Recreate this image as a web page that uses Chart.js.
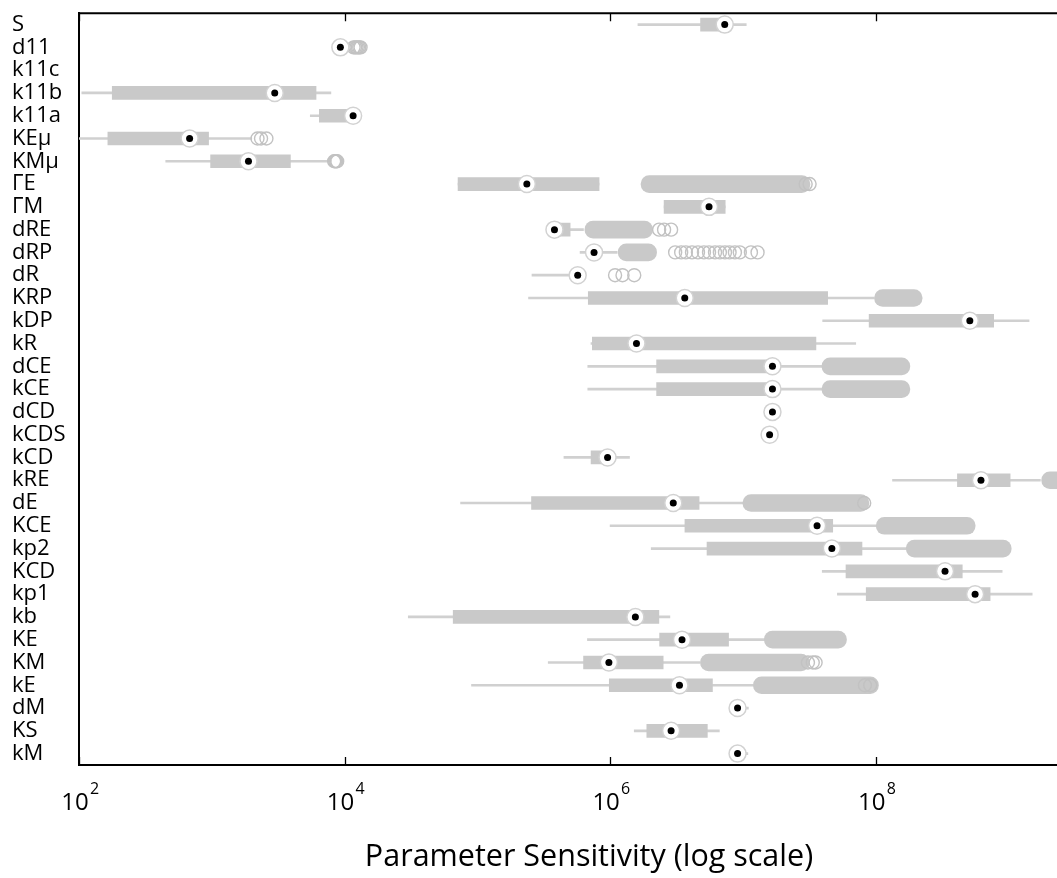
<!DOCTYPE html>
<html>
<head>
<meta charset="utf-8">
<script src="https://cdn.jsdelivr.net/npm/chart.js@4.4.0/dist/chart.umd.min.js"></script>
<style>
html,body{margin:0;padding:0;background:#fff;overflow:hidden;}
#wrap{position:relative;width:1109px;height:878px;}
</style>
</head>
<body>
<div id="wrap"><canvas id="c"></canvas></div>
<script>
// ---- data ----
const categories = ['S','d11','k11c','k11b','k11a','KEμ','KMμ','ΓE','ΓM','dRE','dRP','dR','KRP','kDP','kR','dCE','kCE','dCD','kCDS','kCD','kRE','dE','KCE','kp2','KCD','kp1','kb','KE','KM','kE','dM','KS','kM'];

const whiskerLow  = [1.62e6, null, null, 105, 5520, 98, 450, 7.16e4, 2.55e6, 3.72e5, 5.94e5, 2.58e5, 2.43e5, 3.99e7, 7.18e5, 6.79e5, 6.79e5, null, null, 4.49e5, 1.34e8, 7.48e4, 1.0e6, 2.04e6, 3.96e7, 5.15e7, 3.02e4, 6.75e5, 3.42e5, 9.04e4, 9.12e6, 1.52e6, 9.12e6];
const quartile1   = [4.8e6, null, null, 178, 6460, 165, 980, 7.16e4, 2.55e6, 3.72e5, 7.08e5, 5.5e5, 6.85e5, 8.93e7, 7.35e5, 2.24e6, 2.24e6, null, null, 7.19e5, 4.13e8, 2.56e5, 3.66e6, 5.37e6, 5.98e7, 8.49e7, 6.58e4, 2.36e6, 6.31e5, 9.86e5, null, 1.89e6, null];
const medians     = [7.3e6, 9.3e3, null, 2980, 1.16e4, 681, 1890, 2.36e5, 5.56e6, 3.81e5, 7.57e5, 5.7e5, 3.65e6, 5.12e8, 1.58e6, 1.67e7, 1.67e7, 1.67e7, 1.59e7, 9.57e5, 6.21e8, 2.99e6, 3.62e7, 4.68e7, 3.33e8, 5.61e8, 1.55e6, 3.48e6, 9.79e5, 3.33e6, 9.12e6, 2.88e6, 9.12e6];
const quartile3   = [7.45e6, null, null, 6100, 1.17e4, 946, 3910, 8.26e5, 7.36e6, 5.0e5, 8.3e5, 6.03e5, 4.35e7, 7.74e8, 3.55e7, 1.74e7, 1.74e7, null, null, 1.0e6, 1.03e9, 4.68e6, 4.75e7, 7.89e7, 4.49e8, 7.28e8, 2.33e6, 7.8e6, 2.51e6, 5.9e6, null, 5.4e6, null];
const whiskerHigh = [1.06e7, null, null, 7890, 1.17e4, 2000, 7940, 8.26e5, 7.36e6, 6.3e5, 1.13e6, 6.03e5, 9.73e7, 1.43e9, 7.08e7, 3.94e7, 3.94e7, null, null, 1.4e6, 1.74e9, 1.0e7, 1.01e8, 1.7e8, 8.97e8, 1.51e9, 2.82e6, 1.45e7, 4.73e6, 1.2e7, 1.1e7, 6.65e6, 1.09e7];

// dense runs of overlapping outlier markers (extent of each run)
const outlierRunLow  = [null, null, null, null, null, null, null, 1.71e6, null, 6.46e5, 1.15e6, null, 9.8e7, null, null, 3.94e7, 3.94e7, null, null, null, 1.78e9, 1.0e7, 1.01e8, 1.7e8, null, null, null, 1.45e7, 4.79e6, 1.2e7, null, null, null];
const outlierRunHigh = [null, null, null, null, null, null, null, 3.2e7, null, 2.09e6, 2.24e6, null, 2.24e8, null, null, 1.81e8, 1.81e8, null, null, null, 4.0e9, 8.9e7, 5.62e8, 1.05e9, null, null, null, 6.03e7, 3.16e7, 1.05e8, null, null, null];

// individual outlier markers
const sparseOutliers = [
  ['d11', [1.17e4, 1.2e4, 1.23e4, 1.26e4, 1.29e4, 1.32e4]],
  ['KEμ', [2210, 2350, 2580]],
  ['KMμ', [8350, 8500, 8650, 8800]],
  ['ΓE',  [2.97e7, 3.18e7]],
  ['dRE', [2.34e6, 2.55e6, 2.88e6]],
  ['dRP', [3.09e6, 3.43e6, 3.72e6, 4.14e6, 4.59e6, 5.09e6, 5.56e6, 6.17e6, 6.71e6, 7.33e6, 7.94e6, 8.71e6, 9.48e6, 1.15e7, 1.29e7]],
  ['dR',  [1.09e6, 1.24e6, 1.52e6]],
  ['dE',  [8.2e7]],
  ['KM',  [3.09e7, 3.36e7, 3.53e7]],
  ['kE',  [8.3e7, 9.1e7]]
];

const xTickValues = [1e2, 1e4, 1e6, 1e8];
const xTickBase = '10';
const xTickExponents = ['2', '4', '6', '8'];
const xTitle = 'Parameter Sensitivity (log scale)';

// ---- build datasets ----
const pair = (a, b) => a.map((v, i) => (v == null || b[i] == null) ? null : [v, b[i]]);
const pts = arr => arr.map((v, i) => v == null ? null : {x: v, y: categories[i]}).filter(p => p);
const sparsePts = [];
sparseOutliers.forEach(([cat, vals]) => vals.forEach(v => sparsePts.push({x: v, y: cat})));

const GRAY = '#c9c9c9';

const framePlugin = {
  id: 'frame',
  afterDraw(chart) {
    const {ctx, chartArea: a, scales: {x}} = chart;
    ctx.save();
    ctx.strokeStyle = '#000';
    ctx.lineWidth = 2;
    ctx.beginPath();
    ctx.moveTo(a.left - 1, a.top);
    ctx.lineTo(a.right, a.top);
    ctx.stroke();
    ctx.lineWidth = 1.3;
    ctx.beginPath();
    xTickValues.forEach(v => {
      const px = Math.round(x.getPixelForValue(v)) + 0.5;
      ctx.moveTo(px, a.bottom); ctx.lineTo(px, a.bottom - 8);
      ctx.moveTo(px, a.top); ctx.lineTo(px, a.top + 8);
    });
    ctx.stroke();
    // exponents of the tick labels
    ctx.fillStyle = '#000';
    ctx.font = '16px "Open Sans"';
    ctx.textAlign = 'left';
    ctx.textBaseline = 'alphabetic';
    xTickValues.forEach((v, i) => {
      const px = x.getPixelForValue(v);
      ctx.fillText(xTickExponents[i], px + 11, 794);
    });
    ctx.restore();
  }
};

Chart.defaults.font.family = '"Open Sans", sans-serif';
Chart.defaults.color = '#000';

new Chart(document.getElementById('c'), {
  type: 'bar',
  data: {
    labels: categories,
    datasets: [
      {type: 'scatter', label: 'median dot', data: pts(medians), pointRadius: 3.5, pointBackgroundColor: '#000', pointBorderWidth: 0, pointHoverRadius: 3.5},
      {type: 'scatter', label: 'median ring', data: pts(medians), pointRadius: 8.5, pointBackgroundColor: '#fff', pointBorderColor: '#d2d2d2', pointBorderWidth: 1.5, pointHoverRadius: 8.5},
      {type: 'scatter', label: 'outliers', data: sparsePts, pointRadius: 6.5, pointBackgroundColor: 'rgba(0,0,0,0)', pointBorderColor: '#c2c2c2', pointBorderWidth: 1.4, pointHoverRadius: 6.5},
      {type: 'bar', label: 'outlier runs', data: pair(outlierRunLow, outlierRunHigh), backgroundColor: GRAY, barThickness: 17, borderRadius: 9, borderSkipped: false, grouped: false},
      {type: 'bar', label: 'box', data: pair(quartile1, quartile3), backgroundColor: GRAY, barThickness: 13, grouped: false},
      {type: 'bar', label: 'whisker', data: pair(whiskerLow, whiskerHigh), backgroundColor: '#d0d0d0', barThickness: 2, grouped: false}
    ]
  },
  options: {
    indexAxis: 'y',
    responsive: true,
    maintainAspectRatio: false,
    animation: false,
    layout: {padding: {left: 12, right: 0, top: 7, bottom: 0}},
    plugins: {legend: {display: false}, tooltip: {enabled: false}},
    scales: {
      x: {
        type: 'logarithmic',
        min: 1e2,
        max: 4.81e9,
        afterBuildTicks: s => { s.ticks = xTickValues.map(v => ({value: v})); },
        afterFit: s => { s.height = 113; },
        ticks: {
          callback: () => xTickBase,
          autoSkip: false, maxRotation: 0, minRotation: 0,
          font: {size: 24}, color: '#000', padding: 24, labelOffset: -4
        },
        grid: {display: false, drawTicks: false},
        border: {display: true, color: '#000', width: 2},
        title: {display: true, text: xTitle, font: {size: 30.5}, color: '#000', padding: {top: 0, bottom: 2}}
      },
      y: {
        type: 'category',
        offset: true,
        afterFit: s => { s.width = 67; },
        ticks: {crossAlign: 'far', autoSkip: false, font: {size: 22}, color: '#000', padding: 0},
        grid: {display: false, drawTicks: false},
        border: {display: true, color: '#000', width: 2}
      }
    }
  },
  plugins: [framePlugin]
});
</script>
</body>
</html>
